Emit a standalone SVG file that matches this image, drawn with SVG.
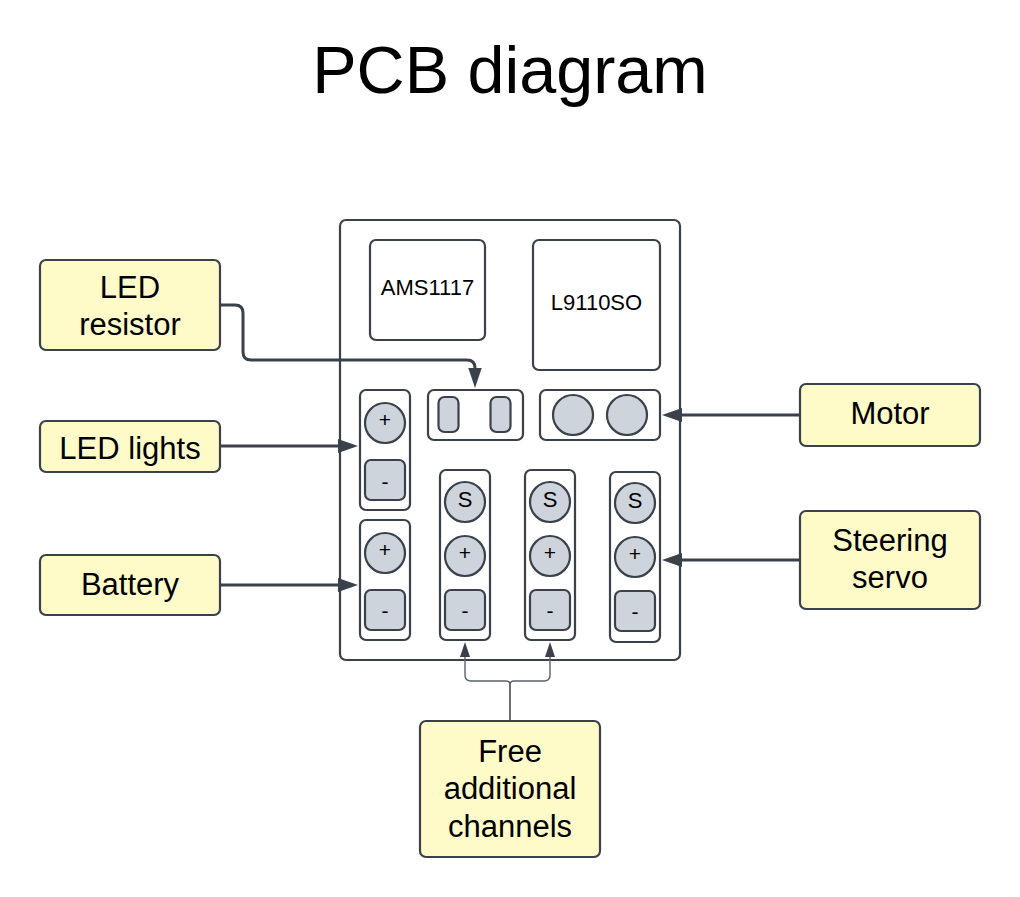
<svg xmlns="http://www.w3.org/2000/svg" width="1020" height="897" viewBox="0 0 1020 897">
<style>
text{font-family:"Liberation Sans",Arial,sans-serif;fill:#000;text-anchor:middle}
.b{fill:#fff;stroke:#3a414a;stroke-width:2.200}
.y{fill:#fefbc9;stroke:#3a414a;stroke-width:2.200}
.g{fill:#ced4db;stroke:#3a414a;stroke-width:2.200}
.l{font-size:31px}
.c{font-size:21px}
.v{font-size:22px}
.s{font-size:22px}
.w{fill:none;stroke:#3a414a;stroke-width:3}
.t{fill:none;stroke:#5b626b;stroke-width:1.400}
.a{fill:#3a414a}
</style>
<rect width="1020" height="897" fill="#fff"/>
<text id="title" x="510" y="93" font-size="66.500">PCB diagram</text>
<g id="board"><rect class="b" x="340" y="220" width="340" height="440" rx="6"/></g>
<g id="ams1117"><rect class="b" x="370" y="240" width="115" height="100" rx="6"/><text x="427.500" y="295" class="s">AMS1117</text></g>
<g id="l9110"><rect class="b" x="533" y="240" width="127" height="130" rx="6"/><text x="596.500" y="310" class="s">L9110SO</text></g>
<g id="resistor-socket"><rect class="b" x="428" y="390" width="95" height="50" rx="6"/><rect class="g" x="438.500" y="397" width="20" height="35" rx="6"/><rect class="g" x="490.500" y="397" width="20" height="35" rx="6"/></g>
<g id="motor-socket"><rect class="b" x="540" y="390" width="120" height="50" rx="6"/><circle class="g" cx="573" cy="415" r="20"/><circle class="g" cx="627" cy="415" r="20"/></g>
<g id="led-socket"><rect class="b" x="360" y="390" width="50" height="120" rx="6"/><circle class="g" cx="385" cy="423" r="20"/><text x="385" y="427" class="c">+</text><rect class="g" x="365" y="460" width="40" height="40" rx="6"/><text x="385" y="489" class="c">-</text></g>
<g id="battery-socket"><rect class="b" x="360" y="520" width="50" height="120" rx="6"/><circle class="g" cx="385" cy="553" r="20"/><text x="385" y="557" class="c">+</text><rect class="g" x="365" y="590" width="40" height="40" rx="6"/><text x="385" y="618" class="c">-</text></g>
<g id="channel-1"><rect class="b" x="440" y="470" width="50" height="170" rx="6"/><circle class="g" cx="465" cy="502" r="20"/><text x="465" y="507" class="v">S</text><circle class="g" cx="465" cy="556" r="20"/><text x="465" y="560" class="c">+</text><rect class="g" x="445" y="590" width="40" height="40" rx="6"/><text x="465" y="618" class="c">-</text></g>
<g id="channel-2"><rect class="b" x="525" y="470" width="50" height="170" rx="6"/><circle class="g" cx="550" cy="502" r="20"/><text x="550" y="507" class="v">S</text><circle class="g" cx="550" cy="556" r="20"/><text x="550" y="560" class="c">+</text><rect class="g" x="530" y="590" width="40" height="40" rx="6"/><text x="550" y="618" class="c">-</text></g>
<g id="channel-3"><rect class="b" x="610" y="472" width="50" height="170" rx="6"/><circle class="g" cx="635" cy="503" r="20"/><text x="635" y="508" class="v">S</text><circle class="g" cx="635" cy="557" r="20"/><text x="635" y="561" class="c">+</text><rect class="g" x="615" y="591" width="40" height="40" rx="6"/><text x="635" y="619" class="c">-</text></g>
<g id="connectors">
<path class="w" d="M221 305H235Q243 305 243 313V352Q243 360 251 360H467Q475 360 475 368V372"/>
<path class="a" d="M468.300 368H481.700L475 388Z"/>
<path class="w" d="M221 446H342"/><path class="a" d="M338 439L358 446L338 453Z"/>
<path class="w" d="M221 585H342"/><path class="a" d="M338 578L358 585L338 592Z"/>
<path class="w" d="M799 415H678"/><path class="a" d="M682 408L662 415L682 422Z"/>
<path class="w" d="M799 560H678"/><path class="a" d="M682 553L662 560L682 567Z"/>
<path class="t" d="M510 721V685Q510 681 506 681H471Q465 681 465 675V655"/>
<path class="t" d="M510 721V685Q510 681 514 681H544Q550 681 550 675V655"/>
<path class="a" d="M460 657H470L465 642Z"/><path class="a" d="M545 657H555L550 642Z"/>
</g>
<g id="led-resistor"><rect class="y" x="40" y="260" width="180" height="90" rx="6"/><text x="130" y="297.500" class="l">LED</text><text x="130" y="334.500" class="l">resistor</text></g>
<g id="led-lights"><rect class="y" x="40" y="421" width="180" height="51" rx="6"/><text x="130" y="458.500" class="l">LED lights</text></g>
<g id="battery"><rect class="y" x="40" y="555" width="180" height="60" rx="6"/><text x="130" y="594.500" class="l">Battery</text></g>
<g id="motor"><rect class="y" x="800" y="384" width="180" height="62" rx="6"/><text x="890" y="423.500" class="l">Motor</text></g>
<g id="steering-servo"><rect class="y" x="800" y="511" width="180" height="98" rx="6"/><text x="890" y="550.500" class="l">Steering</text><text x="890" y="587.500" class="l">servo</text></g>
<g id="free-channels"><rect class="y" x="420" y="721" width="180" height="136" rx="6"/><text x="510" y="761.500" class="l">Free</text><text x="510" y="799" class="l">additional</text><text x="510" y="836.500" class="l">channels</text></g>
</svg>
